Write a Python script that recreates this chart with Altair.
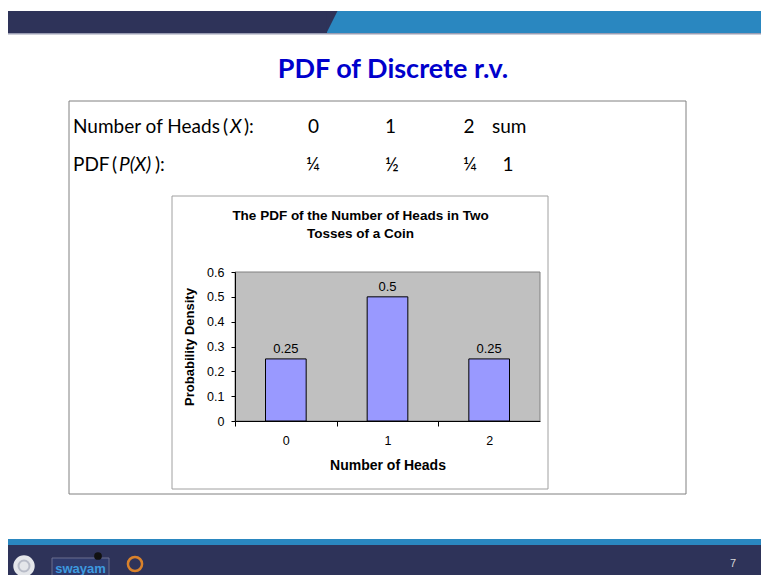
import altair as alt
import pandas as pd

# ---------------- data ----------------
heads = ["0", "1", "2"]
pdf_values = [0.25, 0.5, 0.25]
bar_labels = ["0.25", "0.5", "0.25"]
y_ticks = [0, 0.1, 0.2, 0.3, 0.4, 0.5, 0.6]
table_x = ["0", "1", "2"]
table_sum_label = "sum"
table_p = ["¼", "½", "¼"]
table_p_sum = "1"
slide_title = "PDF of Discrete r.v."
chart_title = ["The PDF of the Number of Heads in Two", "Tosses of a Coin"]
x_title = "Number of Heads"
y_title = "Probability Density"
page_number = "7"

# ---------------- layout ----------------
W, H = 305, 149          # plot area
OX, OY = 235, 272        # plot origin on the page
SVG_W, SVG_H = 753, 567  # fits the window with the 8px page margins
NAVY = "#2E3359"
BLUE = "#2A87C0"
SANS = "Liberation Sans"
SLIDE = "Lato"
FS = 19
HALF_STEP = W / len(heads) / 2


def px(x):
    return x - OX


def py(y):
    return y - OY


base = alt.Chart(pd.DataFrame({"d": [0]}))


def rect(x1, y1, x2, y2, fill, stroke=None, sw=1):
    kw = dict(fill=fill)
    if stroke:
        kw.update(stroke=stroke, strokeWidth=sw)
    return base.mark_rect(**kw).encode(
        x=alt.value(px(x1)), x2=alt.value(px(x2)),
        y=alt.value(py(y1)), y2=alt.value(py(y2)))


def text(s, x, y, size, color="#000", font=SLIDE, weight="normal",
         style="normal", align="left", baseline="alphabetic", angle=0):
    return base.mark_text(text=s, fontSize=size, color=color, font=font,
                          fontWeight=weight, fontStyle=style, align=align,
                          baseline=baseline, angle=angle).encode(
        x=alt.value(px(x)), y=alt.value(py(y)))


layers = []
# header band
layers.append(rect(7, 11, 780, 33, BLUE))
layers.append(rect(7, 11, 327, 33, NAVY))
layers.append(base.mark_point(shape="M-0.5,1L-0.5,-1L0.5,-1Z", filled=True,
                              opacity=1, fill=NAVY, strokeWidth=0, size=484)
              .encode(x=alt.value(px(332)), y=alt.value(py(22))))
layers.append(rect(7, 33, 780, 34.5, "#9a9db3"))

# slide title
layers.append(text(slide_title, 393, 78, 27, color="#0000CC", weight="bold",
                   align="center"))

# text box
layers.append(rect(69, 101, 686, 494, "white", stroke="#808080"))
r1, r2 = 133, 171
layers.append(text("Number of Heads", 73, r1, FS))
layers.append(text("(", 223, r1, FS))
layers.append(text("X", 230, r1, FS, style="italic"))
layers.append(text("):", 244, r1, FS))
for v, cx in zip(table_x, [313.5, 390.5, 469]):
    layers.append(text(v, cx, r1, FS, align="center"))
layers.append(text(table_sum_label, 492, r1, FS))
layers.append(text("PDF", 73, r2, FS))
layers.append(text("(", 112, r2, FS))
layers.append(text("P(X)", 119, r2, FS, style="italic"))
layers.append(text("):", 155, r2, FS))
for v, cx in zip(table_p, [313, 392, 470]):
    layers.append(text(v, cx, r2, FS, align="center"))
layers.append(text(table_p_sum, 508, r2, FS, align="center"))

# chart box + plot area
layers.append(rect(172, 196, 548, 489, "white", stroke="#a0a0a0"))
layers.append(text(chart_title[0], 360.5, 216, 13.5, font=SANS, weight="bold",
                   baseline="middle", align="center"))
layers.append(text(chart_title[1], 360.5, 234, 13.5, font=SANS, weight="bold",
                   baseline="middle", align="center"))
layers.append(rect(OX, OY, OX + W, OY + H, "#C0C0C0", stroke="#808080"))

# footer
layers.append(rect(7, 539, 780, 545, BLUE))
layers.append(rect(7, 545, 780, 590, NAVY))
layers.append(base.mark_point(shape="circle", filled=True, opacity=1,
                              fill="#e4e6ea", size=460)
              .encode(x=alt.value(px(24)), y=alt.value(py(566))))
layers.append(base.mark_point(shape="circle", filled=False, opacity=1,
                              stroke="#b8bcc8", strokeWidth=2, size=120)
              .encode(x=alt.value(px(24)), y=alt.value(py(566))))
layers.append(rect(52, 558, 109, 578, "#2f3a6b", stroke="#6a6f8f"))
layers.append(text("swayam", 80.5, 573, 13, color="#3d9ae0", font=SANS,
                   weight="bold", align="center"))
layers.append(base.mark_point(shape="circle", filled=True, opacity=1,
                              fill="#111111", size=60)
              .encode(x=alt.value(px(98)), y=alt.value(py(556))))
layers.append(base.mark_point(shape="circle", filled=False, opacity=1,
                              stroke="#d9822b", strokeWidth=2.5, size=200)
              .encode(x=alt.value(px(135)), y=alt.value(py(564))))
layers.append(text(page_number, 733, 567, 11, color="#d8d8d8", font=SANS,
                   align="center"))

# ---------------- the bar chart ----------------
df = pd.DataFrame({"heads": heads, "pdf": pdf_values, "label": bar_labels})
xenc = alt.X("heads:N", sort=heads,
             scale=alt.Scale(paddingInner=0.6, paddingOuter=0.3),
             axis=alt.Axis(title=x_title, labelAngle=0,
                           tickOffset=-HALF_STEP, labelOffset=HALF_STEP,
                           tickSize=5, labelPadding=8, titlePadding=12,
                           labelFont=SANS, labelFontSize=12.5,
                           labelColor="#000",
                           titleFont=SANS, titleFontSize=14,
                           titleFontWeight="bold", titleColor="#000",
                           domainColor="#000", tickColor="#000", grid=False,
                           zindex=1))
yenc = alt.Y("pdf:Q", scale=alt.Scale(domain=[0, 0.6], nice=False),
             axis=alt.Axis(title=y_title, values=y_ticks, format=".1~f",
                           labelOverlap=False,
                           tickSize=4, labelPadding=7, titlePadding=10,
                           labelFont=SANS, labelFontSize=12.5,
                           labelColor="#000",
                           titleFont=SANS, titleFontSize=13,
                           titleFontWeight="bold", titleColor="#000",
                           domainColor="#000", tickColor="#000", grid=False,
                           zindex=1))
bar_base = alt.Chart(df).encode(x=xenc, y=yenc)
bars = bar_base.mark_bar(color="#9999FF", stroke="#000", strokeWidth=1)
bar_text = bar_base.mark_text(dy=-10, fontSize=13, font=SANS,
                              color="#000").encode(text="label:N")
layers += [bars, bar_text]

chart = alt.layer(*layers).properties(
    width=W, height=H,
    autosize=alt.AutoSizeParams(type="none"),
    padding={"left": OX - 8, "top": OY - 8,
             "right": SVG_W - (OX - 8) - W, "bottom": SVG_H - (OY - 8) - H},
    background="white",
).configure_view(stroke=None)

chart.save("out.html", embed_options={"renderer": "svg", "actions": False})
